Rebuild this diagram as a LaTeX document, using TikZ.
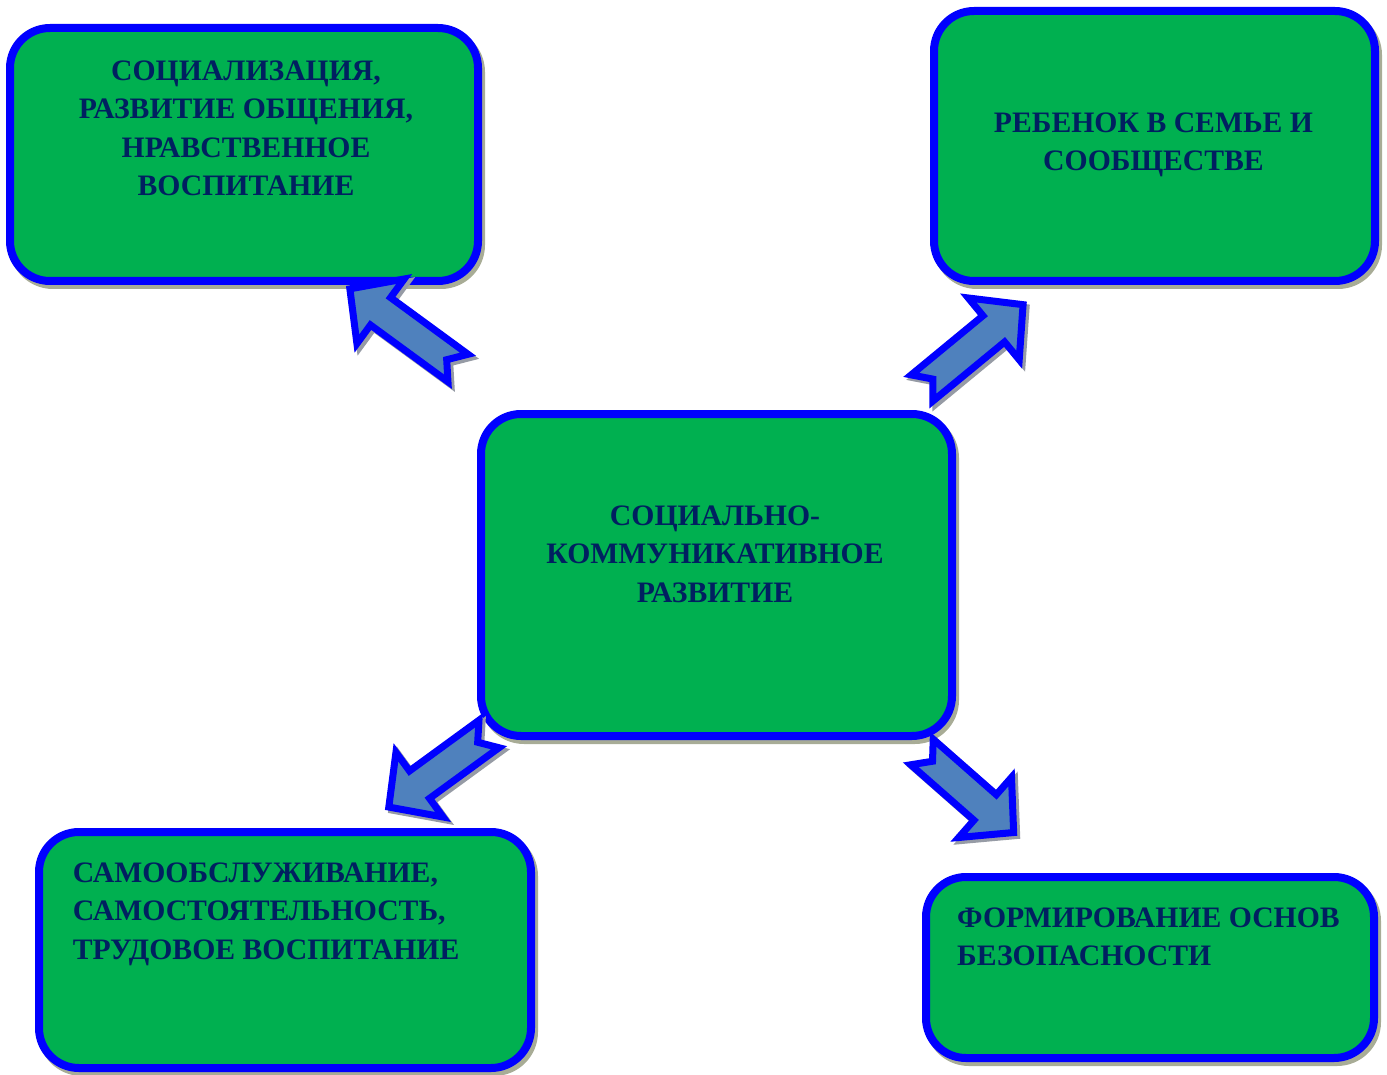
\documentclass[tikz,border=0pt]{standalone}
\usepackage{fontspec}
\setmainfont{Liberation Serif}
\usetikzlibrary{shadows}
\definecolor{boxgreen}{RGB}{0,176,80}
\definecolor{edgeblue}{RGB}{0,0,255}
\definecolor{navytext}{RGB}{0,32,96}
\definecolor{arrowfill}{RGB}{79,129,189}
\definecolor{boxshade}{RGB}{168,172,150}
\definecolor{arrowshade}{RGB}{150,155,165}
\newcommand\blockarrow[3]{% tail coordinate, angle, length
  \begin{scope}[shift={(#1)},shift={(3,3)},rotate=#2]
    \draw[arrowshadow] (0,17) -- (#3-38,17) -- (#3-38,40) -- (#3,0) -- (#3-38,-40) -- (#3-38,-17) -- (0,-17) -- (14,0) -- cycle;
  \end{scope}
  \begin{scope}[shift={(#1)},rotate=#2]
    \draw[arrowbody] (0,17) -- (#3-38,17) -- (#3-38,40) -- (#3,0) -- (#3-38,-40) -- (#3-38,-17) -- (0,-17) -- (14,0) -- cycle;
  \end{scope}}
\begin{document}
\begin{tikzpicture}[x=1pt,y=-1pt,
  box/.style={draw=edgeblue, fill=boxgreen, line width=8pt, rounded corners=40pt,
    inner sep=0pt, outer sep=0pt, rectangle,
    general shadow={shadow xshift=3pt, shadow yshift=-4pt, draw=boxshade, line width=8pt}},
  boxtext/.style={text=navytext, font=\fontsize{29.7}{38.5}\selectfont\bfseries, inner sep=0pt},
  arrowbody/.style={draw=edgeblue, fill=arrowfill, line width=7pt, line join=miter},
  arrowshadow/.style={draw=arrowshade, fill=arrowshade, line width=7pt, line join=miter}]
\useasboundingbox (0,0) rectangle (1387,1075);
% boxes
\node[box, minimum width=468pt, minimum height=253pt] (social) at (244,154.5) {};
\node[box, minimum width=441pt, minimum height=270pt] (family) at (1154.5,146) {};
\node[box, minimum width=471pt, minimum height=322pt] (center) at (716.5,575) {};
\node[box, minimum width=492pt, minimum height=236pt] (self) at (285,950) {};
\node[box, minimum width=448pt, minimum height=181pt] (safety) at (1150,967.5) {};
% texts
\node[boxtext, anchor=north, align=center] (socialtext) at (246,53)
  {\strut СОЦИАЛИЗАЦИЯ,\\РАЗВИТИЕ ОБЩЕНИЯ,\\НРАВСТВЕННОЕ\\ВОСПИТАНИЕ};
\node[boxtext, anchor=north, align=center] (familytext) at (1153.5,105)
  {\strut РЕБЕНОК В СЕМЬЕ И\\СООБЩЕСТВЕ};
\node[boxtext, anchor=north, align=center] (centertext) at (715,498)
  {\strut СОЦИАЛЬНО-\\КОММУНИКАТИВНОЕ\\РАЗВИТИЕ};
\node[boxtext, anchor=north west, align=left] (selftext) at (72.7,855)
  {\strut САМООБСЛУЖИВАНИЕ,\\САМОСТОЯТЕЛЬНОСТЬ,\\ТРУДОВОЕ ВОСПИТАНИЕ};
\node[boxtext, anchor=north west, align=left] (safetytext) at (957,900)
  {\strut ФОРМИРОВАНИЕ ОСНОВ\\БЕЗОПАСНОСТИ};
% arrow tails
\coordinate (tailA) at (458,368);
\coordinate (tailB) at (922,388);
\coordinate (tailC) at (489,734);
\coordinate (tailD) at (922,752);
\blockarrow{tailA}{143.8}{134}
\blockarrow{tailB}{39.5}{131}
\blockarrow{tailC}{216.1}{124}
\blockarrow{tailD}{-41.3}{122}
\end{tikzpicture}
\end{document}
